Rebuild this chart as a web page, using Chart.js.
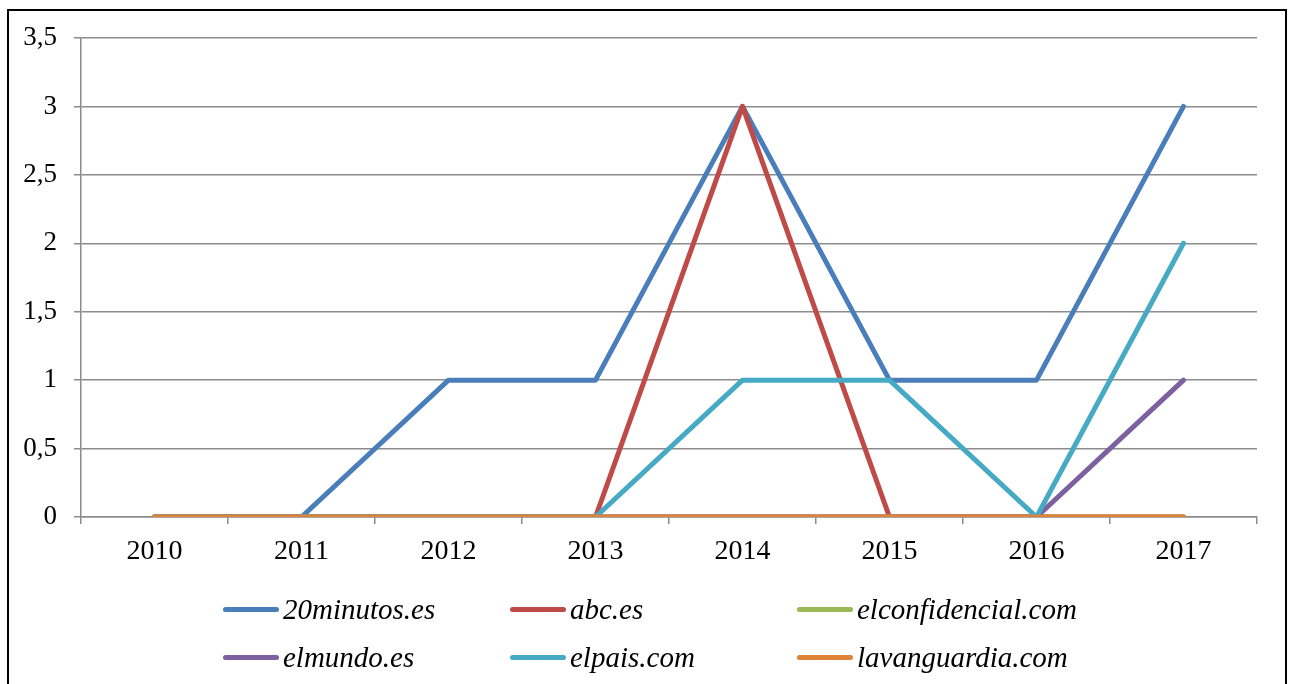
<!DOCTYPE html>
<html>
<head>
<meta charset="utf-8">
<script src="https://cdn.jsdelivr.net/npm/chart.js@4/dist/chart.umd.min.js"></script>
<style>
  html, body { margin: 0; padding: 0; background: #fff; }
  #wrap { position: relative; width: 1290px; height: 684px; overflow: hidden; }
  #frame { position: absolute; left: 7px; top: 9px; width: 1276px; height: 700px; border: 2px solid #000; pointer-events: none; }
  #legend { position: absolute; left: 0; top: 0; width: 1290px; height: 684px; pointer-events: none; }
  .item { position: absolute; display: flex; align-items: center; font-family: 'Liberation Serif', 'Times New Roman', serif; font-style: italic; font-size: 29px; color: #000; white-space: nowrap; }
  .swatch { width: 56px; height: 5px; border-radius: 3px; margin-right: 4px; }
</style>
</head>
<body>
<div id="wrap">
  <canvas id="myChart" width="1290" height="684"></canvas>
  <div id="legend"></div>
  <div id="frame"></div>
</div>
<script>
const years = ['2010', '2011', '2012', '2013', '2014', '2015', '2016', '2017']
const seriesNames = ['20minutos.es', 'abc.es', 'elconfidencial.com', 'elmundo.es', 'elpais.com', 'lavanguardia.com']
const minutos20 = [0, 0, 1, 1, 3, 1, 1, 3]
const abc = [0, 0, 0, 0, 3, 0, 0, 0]
const elconfidencial = [0, 0, 0, 0, 0, 0, 0, 0]
const elmundo = [0, 0, 0, 0, 0, 0, 0, 1]
const elpais = [0, 0, 0, 0, 1, 1, 0, 2]
const lavanguardia = [0, 0, 0, 0, 0, 0, 0, 0]
const colors = ['#4A7EBB', '#BE4B48', '#98B954', '#7D60A0', '#46AAC5', '#DF8339']

const seriesValues = [minutos20, abc, elconfidencial, elmundo, elpais, lavanguardia]
const gridColor = '#8c8c8c'

function initChart() {
  const ctx = document.getElementById('myChart')

  const datasets = seriesValues.map((vals, i) => ({
    label: seriesNames[i],
    data: vals,
    borderColor: colors[i],
    backgroundColor: colors[i],
    borderWidth: 5,
    borderCapStyle: 'round',
    borderJoinStyle: 'round',
    pointRadius: 0,
    tension: 0,
    fill: false,
    // later series painted on top, like the original
    order: seriesValues.length - i
  }))

  const config = {
    type: 'line',
    data: { labels: years, datasets: datasets },
    options: {
      responsive: false,
      animation: false,
      layout: { padding: { left: 10, right: 33, top: 38, bottom: 0 } },
      plugins: {
        legend: { display: false },
        tooltip: { enabled: false }
      },
      scales: {
        x: {
          offset: true,
          grid: {
            offset: true,
            drawOnChartArea: false,
            drawTicks: true,
            tickLength: 7,
            color: gridColor,
            lineWidth: 1.5
          },
          border: { color: gridColor, width: 1.5 },
          ticks: {
            color: '#000',
            padding: 11,
            maxRotation: 0,
            font: { family: 'Liberation Serif', size: 28 }
          },
          afterFit: (scale) => { scale.height = 167 }
        },
        y: {
          min: 0,
          max: 3.5,
          grid: {
            color: gridColor,
            lineWidth: 1.5,
            tickLength: 7
          },
          border: { color: gridColor, width: 1.5 },
          ticks: {
            stepSize: 0.5,
            color: '#000',
            padding: 17,
            font: { family: 'Liberation Serif', size: 27 },
            callback: (v) => String(v).replace('.', ',')
          },
          afterFit: (scale) => { scale.width = 71 }
        }
      }
    }
  }
  // eslint-disable-next-line no-undef
  new Chart(ctx, config)
}

function buildLegend() {
  const el = document.getElementById('legend')
  const colX = [223, 510, 797]
  const rowY = [609, 657]
  seriesNames.forEach((name, i) => {
    const item = document.createElement('div')
    item.className = 'item'
    item.style.left = colX[i % 3] + 'px'
    item.style.top = (rowY[Math.floor(i / 3)] - 17) + 'px'
    item.style.height = '34px'
    const sw = document.createElement('span')
    sw.className = 'swatch'
    sw.style.background = colors[i]
    const tx = document.createElement('span')
    tx.textContent = name
    item.appendChild(sw)
    item.appendChild(tx)
    el.appendChild(item)
  })
}

initChart()
buildLegend()
</script>
</body>
</html>
